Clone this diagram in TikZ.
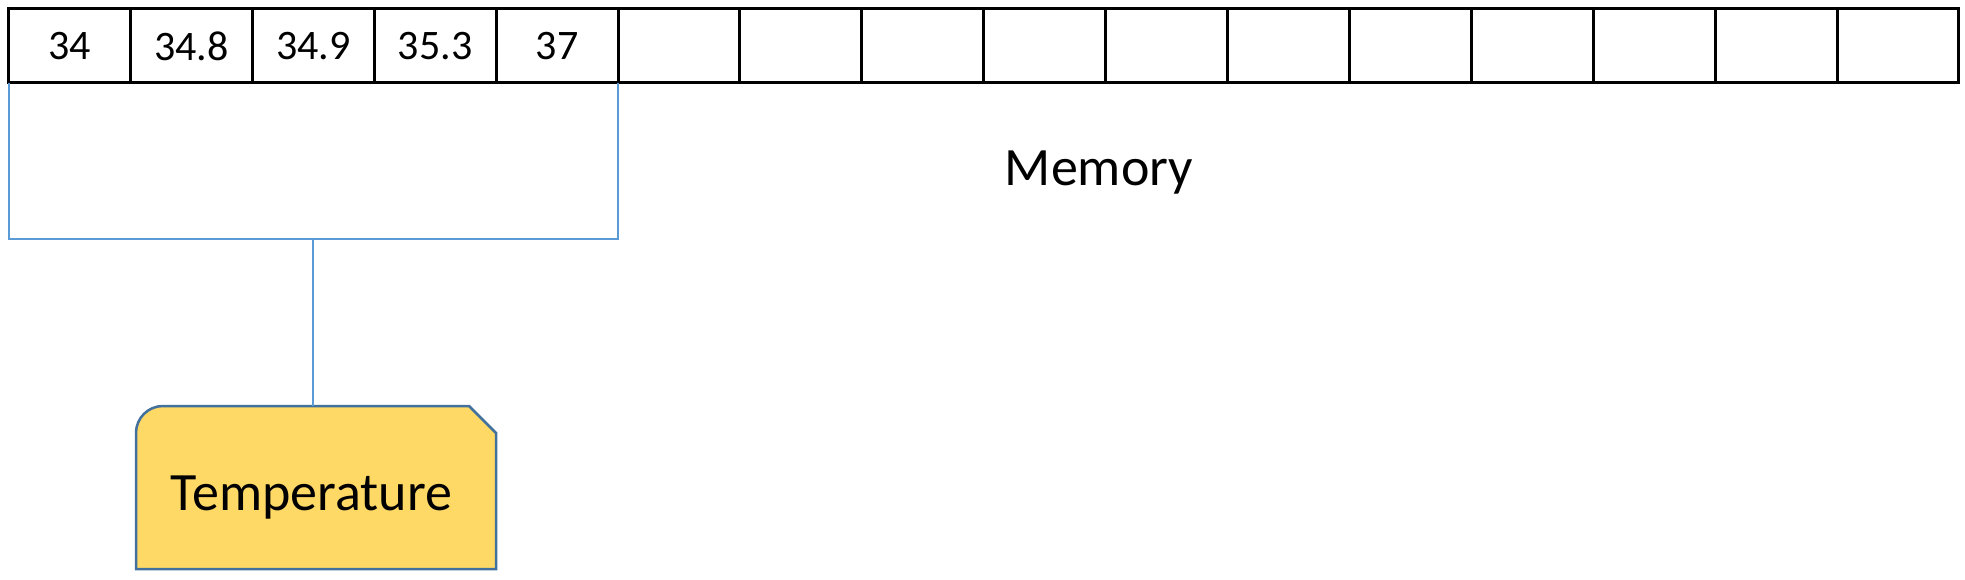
\documentclass[tikz,border=0pt]{standalone}
\usepackage{fontspec}
\setmainfont{Carlito}
\usetikzlibrary{calc}
\definecolor{tempfill}{HTML}{FFD966}
\definecolor{tempdraw}{HTML}{41719C}
\definecolor{connblue}{HTML}{5B9BD5}
\tikzset{
  cell/.style={draw=black, line width=3pt, minimum width=121.9pt, minimum height=74pt,
    inner sep=0pt, outer sep=0pt, font=\fontsize{42}{50}\selectfont},
  conn/.style={draw=connblue, line width=2pt},
  tempshape/.style={draw=tempdraw, line width=2.5pt, fill=tempfill, line join=miter},
  biglabel/.style={font=\fontsize{54}{62}\selectfont, inner sep=0pt, anchor=base}
}
\begin{document}
\begin{tikzpicture}[x=1pt,y=1pt]
\useasboundingbox (0,0) rectangle (1965,579);
\foreach \v [count=\i] in {34,34.8,34.9,35.3,37,{},{},{},{},{},{},{},{},{},{},{}}
  \node[cell] (c\i) at ({8.5+(\i-0.5)*121.9},533) {\v};
% bracket
\coordinate (bl) at (c1.south west |- 0,340);
\coordinate (br) at (c5.south east |- 0,340);
\coordinate (bm) at ($(bl)!0.5!(br)$);
\draw[conn] (c1.south west) -- (bl) -- (br) -- (c5.south east);
% temperature box
\node[minimum width=360pt, minimum height=163pt, inner sep=0pt, outer sep=0pt] (temp) at (316,91.5) {};
\draw[tempshape] (temp.south west) -- ([yshift=-27pt]temp.north west)
  arc[start angle=180, end angle=90, radius=27pt]
  -- ([xshift=-27pt]temp.north east) -- ([yshift=-27pt]temp.north east)
  -- (temp.south east) -- cycle;
\draw[conn] (bm) -- (bm |- temp.north);
\node[biglabel] (templabel) at (311.5,69) {Temperature};
\node[biglabel] (memlabel) at (1099,393) {Memory};
\end{tikzpicture}
\end{document}
